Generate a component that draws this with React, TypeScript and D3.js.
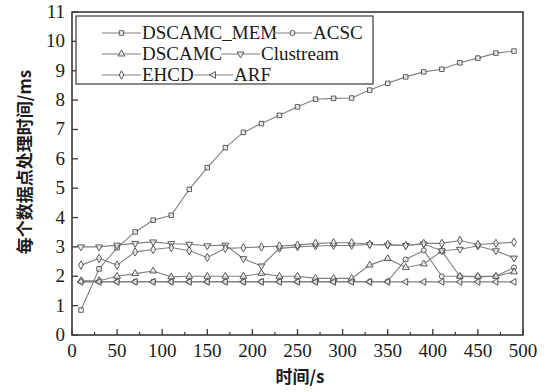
import React from "react";
import * as d3 from "d3";

const times = [10, 30, 50, 70, 90, 110, 130, 150, 170, 190, 210, 230, 250, 270, 290, 310, 330, 350, 370, 390, 410, 430, 450, 470, 490];

const dscamcMem = [0.85, 2.25, 2.97, 3.51, 3.91, 4.08, 4.96, 5.7, 6.38, 6.9, 7.2, 7.48, 7.77, 8.03, 8.06, 8.07, 8.34, 8.57, 8.79, 8.96, 9.05, 9.27, 9.43, 9.6, 9.67];
const acsc = [1.82, 1.82, 1.82, 1.82, 1.82, 1.82, 1.82, 1.82, 1.82, 1.82, 1.82, 1.82, 1.82, 1.82, 1.82, 1.82, 1.82, 1.83, 2.57, 2.88, 2.0, 2.0, 1.98, 2.0, 2.3];
const dscamc = [1.85, 1.85, 2.0, 2.09, 2.18, 1.98, 2.0, 2.0, 2.0, 2.0, 2.1, 2.0, 2.0, 1.93, 1.93, 1.93, 2.38, 2.6, 2.3, 2.42, 2.86, 2.0, 2.0, 2.0, 2.15];
const clustream = [3.0, 3.0, 3.06, 3.12, 3.17, 3.11, 3.09, 3.04, 3.06, 2.6, 2.35, 2.95, 3.0, 3.03, 3.05, 3.05, 3.08, 3.06, 3.05, 3.1, 2.87, 2.92, 3.03, 2.87, 2.62];
const ehcd = [2.38, 2.61, 2.38, 2.83, 2.91, 2.98, 2.87, 2.64, 2.95, 2.97, 3.0, 3.03, 3.06, 3.12, 3.14, 3.14, 3.09, 3.08, 3.05, 3.12, 3.12, 3.22, 3.08, 3.12, 3.16];
const arf = [1.81, 1.81, 1.81, 1.81, 1.81, 1.81, 1.81, 1.81, 1.81, 1.81, 1.81, 1.81, 1.81, 1.81, 1.81, 1.81, 1.81, 1.81, 1.81, 1.81, 1.81, 1.81, 1.81, 1.81, 1.81];

const seriesNames = ["DSCAMC_MEM", "ACSC", "DSCAMC", "Clustream", "EHCD", "ARF"];
const seriesValues = [dscamcMem, acsc, dscamc, clustream, ehcd, arf];
const seriesMarkers = ["square", "circle", "triUp", "triDown", "diamond", "triLeft"];

const xTicks = [0, 50, 100, 150, 200, 250, 300, 350, 400, 450, 500];
const xMinorTicks = [25, 75, 125, 175, 225, 275, 325, 375, 425, 475];
const yTicks = [0, 1, 2, 3, 4, 5, 6, 7, 8, 9, 10, 11];

const W = 551, H = 392;
const M = { left: 72, right: 523, top: 12, bottom: 335 };

const x = d3.scaleLinear().domain([0, 500]).range([M.left, M.right]);
const y = d3.scaleLinear().domain([0, 11]).range([M.bottom, M.top]);

const LINE = "#808080";
const MARK = "#555";
const FRAME = "#3a3a3a";
const TEXT = "#1a1a1a";

const SERIF = "'Liberation Serif', 'Times New Roman', 'DejaVu Serif', serif";
const CJK = "'Noto Sans CJK SC', 'Noto Sans', sans-serif";

function markerPath(kind: string): { d: string; rot: number } {
  const size = 20;
  switch (kind) {
    case "square": return { d: d3.symbol(d3.symbolSquare, size)() || "", rot: 0 };
    case "circle": return { d: d3.symbol(d3.symbolCircle, size)() || "", rot: 0 };
    case "triUp": return { d: d3.symbol(d3.symbolTriangle, size)() || "", rot: 0 };
    case "triDown": return { d: d3.symbol(d3.symbolTriangle, size)() || "", rot: 180 };
    case "diamond": return { d: d3.symbol(d3.symbolDiamond, size)() || "", rot: 0 };
    case "triLeft": return { d: d3.symbol(d3.symbolTriangle, size)() || "", rot: -90 };
  }
  return { d: "", rot: 0 };
}

function Marker({ kind, cx, cy }: { kind: string; cx: number; cy: number }) {
  const m = markerPath(kind);
  return (
    <path d={m.d} transform={`translate(${cx},${cy}) rotate(${m.rot})`} fill="#fff" fillOpacity={0.6} stroke={MARK} strokeWidth={1} />
  );
}

const legendRows = [
  [0, 1],
  [2, 3],
  [4, 5],
];

export default function App() {
  const line = d3.line<number>().x((_, i) => x(times[i])).y((v) => y(v));

  const lgX = 76, lgY = 16, lgW = 297, lgH = 68;
  const rowY = [33, 54, 75];
  const serifStyle = { fontFamily: SERIF };
  const cjkStyle = { fontFamily: CJK, fontWeight: 700 };

  return (
    <svg width={W} height={H} style={{ position: "absolute", left: 0, top: 0, background: "#fff" }}>
      {seriesValues.map((vals, s) => (
        <g key={seriesNames[s]}>
          <path d={line(vals) || ""} fill="none" stroke={LINE} strokeWidth={1.1} />
          {vals.map((v, i) => (
            <Marker key={i} kind={seriesMarkers[s]} cx={x(times[i])} cy={y(v)} />
          ))}
        </g>
      ))}

      <rect x={M.left} y={M.top} width={M.right - M.left} height={M.bottom - M.top} fill="none" stroke={FRAME} strokeWidth={1.6} />

      {xTicks.map((t) => (
        <g key={"xt" + t}>
          <line x1={x(t)} x2={x(t)} y1={M.bottom} y2={M.bottom - 6} stroke={FRAME} strokeWidth={1.3} />
          <text x={x(t)} y={357} textAnchor="middle" style={serifStyle} fontSize={19} fill={TEXT}>{t}</text>
        </g>
      ))}
      {xMinorTicks.map((t) => (
        <line key={"xm" + t} x1={x(t)} x2={x(t)} y1={M.bottom} y2={M.bottom - 3} stroke={FRAME} strokeWidth={1.2} />
      ))}

      {yTicks.map((t) => (
        <g key={"yt" + t}>
          <line x1={M.left} x2={M.left + 6} y1={y(t)} y2={y(t)} stroke={FRAME} strokeWidth={1.3} />
          <text x={65} y={y(t) + 6} textAnchor="end" style={serifStyle} fontSize={19} fill={TEXT}>{t}</text>
        </g>
      ))}

      <text x={300} y={383} textAnchor="middle" style={cjkStyle} fontSize={17} fill={TEXT}>时间/s</text>
      <text transform={`translate(31,${162}) rotate(-90)`} textAnchor="middle" style={cjkStyle} fontSize={17} fill={TEXT}>每个数据点处理时间/ms</text>

      <rect x={lgX} y={lgY} width={lgW} height={lgH} fill="#fff" stroke={FRAME} strokeWidth={1.2} />
      {legendRows.map((row, r) => {
        let cur = 102;
        const items: React.ReactNode[] = [];
        row.forEach((s) => {
          const name = seriesNames[s];
          const x0 = cur, x1 = cur + 39;
          items.push(
            <g key={name}>
              <line x1={x0} x2={x1} y1={rowY[r]} y2={rowY[r]} stroke={LINE} strokeWidth={1.1} />
              <Marker kind={seriesMarkers[s]} cx={(x0 + x1) / 2} cy={rowY[r]} />
              <text x={x1 + 1} y={rowY[r] + 6} style={serifStyle} fontSize={19} fill={TEXT}>{name}</text>
            </g>
          );
          const widths: Record<string, number> = { DSCAMC_MEM: 131, DSCAMC: 79, EHCD: 52 };
          cur = x1 + 1 + (widths[name] || 0);
        });
        return <g key={r}>{items}</g>;
      })}
    </svg>
  );
}
